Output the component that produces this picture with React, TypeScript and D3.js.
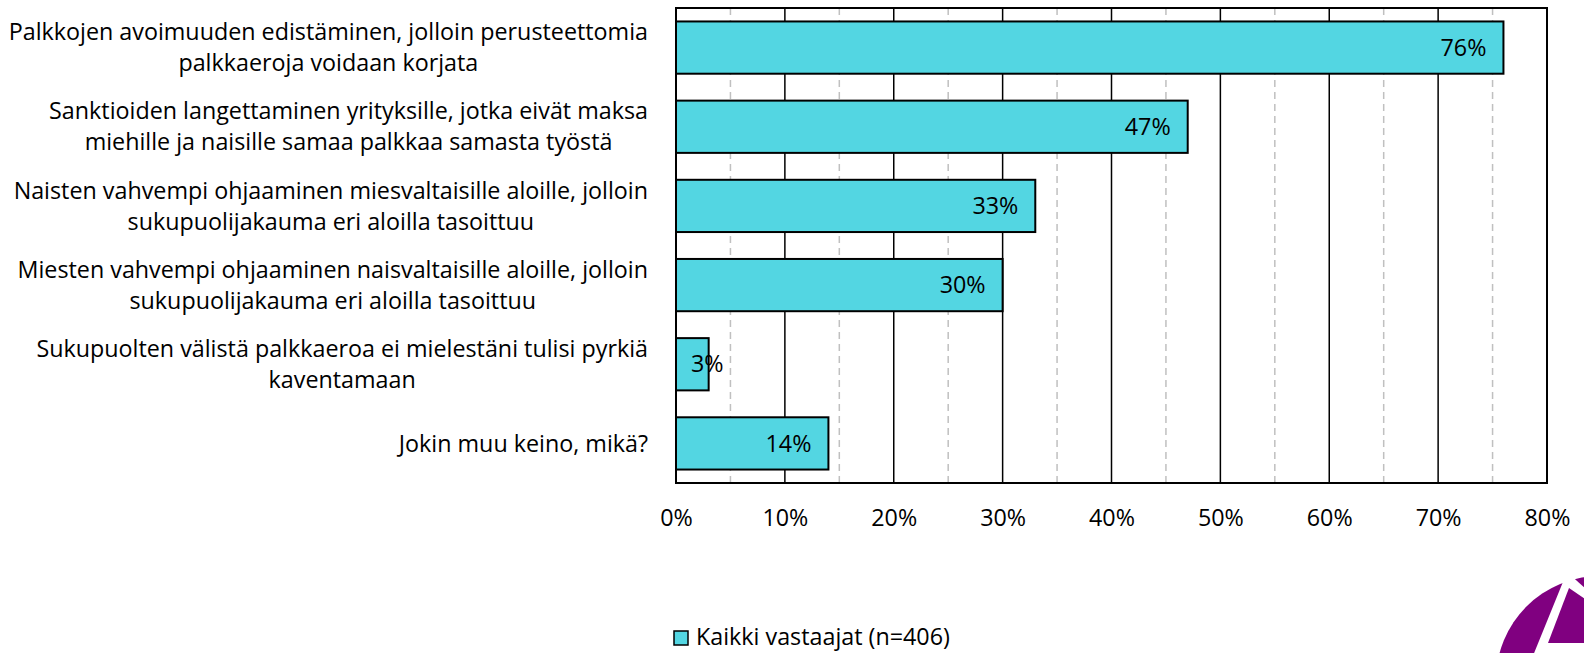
import React, { useEffect, useRef } from 'react';
import * as d3 from 'd3';

// Survey answers (Finnish), one row per option
const categoryLines: string[][] = [
  ['Palkkojen avoimuuden edistäminen, jolloin perusteettomia', 'palkkaeroja voidaan korjata'],
  ['Sanktioiden langettaminen yrityksille, jotka eivät maksa', 'miehille ja naisille samaa palkkaa samasta työstä'],
  ['Naisten vahvempi ohjaaminen miesvaltaisille aloille, jolloin', 'sukupuolijakauma eri aloilla tasoittuu'],
  ['Miesten vahvempi ohjaaminen naisvaltaisille aloille, jolloin', 'sukupuolijakauma eri aloilla tasoittuu'],
  ['Sukupuolten välistä palkkaeroa ei mielestäni tulisi pyrkiä', 'kaventamaan'],
  ['Jokin muu keino, mikä?'],
];
const values = [76, 47, 33, 30, 3, 14];
const majorTicks = [0, 10, 20, 30, 40, 50, 60, 70, 80];
const minorTicks = [5, 15, 25, 35, 45, 55, 65, 75];
const seriesName = 'Kaikki vastaajat (n=406)';

const W = 1584;
const H = 653;
const FONT = "'Open Sans', sans-serif";
const FS = 23.3;

const App = () => {
  const ref = useRef<SVGSVGElement>(null);

  useEffect(() => {
    if (!ref.current) return;
    const svg = d3.select(ref.current);
    svg.selectAll('*').remove();

    const margin = { top: 8, right: 37, bottom: 170, left: 676 };
    const x = d3.scaleLinear().domain([0, 80]).range([margin.left, W - margin.right]);
    const y = d3.scaleBand<number>()
      .domain(values.map((_, i) => i))
      .range([margin.top, H - margin.bottom])
      .paddingInner(0.34)
      .paddingOuter(0.17);

    // minor dashed gridlines
    svg.append('g').selectAll('line').data(minorTicks).join('line')
      .attr('x1', d => x(d)).attr('x2', d => x(d))
      .attr('y1', margin.top).attr('y2', H - margin.bottom)
      .attr('stroke', '#c0c0c0').attr('stroke-width', 1.5)
      .attr('stroke-dasharray', '7,5');

    // major gridlines
    svg.append('g').selectAll('line').data(majorTicks).join('line')
      .attr('x1', d => x(d)).attr('x2', d => x(d))
      .attr('y1', margin.top).attr('y2', H - margin.bottom)
      .attr('stroke', '#000').attr('stroke-width', 1.5);

    // plot border
    svg.append('rect')
      .attr('x', x(0)).attr('y', margin.top)
      .attr('width', x(80) - x(0)).attr('height', H - margin.bottom - margin.top)
      .attr('fill', 'none').attr('stroke', '#000').attr('stroke-width', 2);

    // bars
    svg.append('g').selectAll('rect').data(values).join('rect')
      .attr('x', x(0))
      .attr('y', (_, i) => y(i)!)
      .attr('width', d => x(d) - x(0))
      .attr('height', y.bandwidth())
      .attr('fill', '#53d6e2')
      .attr('stroke', '#000').attr('stroke-width', 2);

    // value labels, inside end (pushed right when the bar is too short)
    values.forEach((v, i) => {
      const t = svg.append('text')
        .attr('y', y(i)! + y.bandwidth() / 2)
        .attr('dy', '0.35em')
        .attr('font-family', FONT).attr('font-size', FS).attr('fill', '#000')
        .text(`${v}%`);
      const w = (t.node() as SVGTextElement).getComputedTextLength();
      const left = Math.max(x(0) + 15, x(v) - 17 - w);
      t.attr('x', left);
    });

    // category labels, centred block right-aligned to axis
    const lineH = 31;
    categoryLines.forEach((lines, i) => {
      const g = svg.append('g');
      const cy = y(i)! + y.bandwidth() / 2;
      const texts = lines.map((s, j) => g.append('text')
        .attr('y', cy + (j - (lines.length - 1) / 2) * lineH)
        .attr('dy', '0.35em')
        .attr('text-anchor', 'middle')
        .attr('font-family', FONT).attr('font-size', FS).attr('fill', '#000')
        .text(s));
      const maxW = d3.max(texts, t => (t.node() as SVGTextElement).getComputedTextLength()) || 0;
      texts.forEach(t => t.attr('x', 648 - maxW / 2));
    });

    // x axis labels
    const axis = svg.append('g')
      .attr('transform', `translate(0,${H - margin.bottom})`)
      .call(d3.axisBottom(x).tickValues(majorTicks).tickSize(0).tickPadding(26).tickFormat(d => `${d}%`));
    axis.select('.domain').remove();
    axis.selectAll('text').attr('font-family', FONT).attr('font-size', FS).attr('fill', '#000');

    // legend
    svg.append('rect')
      .attr('x', 674).attr('y', 631).attr('width', 14).attr('height', 14)
      .attr('fill', '#53d6e2').attr('stroke', '#000').attr('stroke-width', 1.5);
    svg.append('text')
      .attr('x', 696).attr('y', 637).attr('dy', '0.35em')
      .attr('font-family', FONT).attr('font-size', FS).attr('fill', '#000')
      .text(seriesName);

    // logo in corner
    const logo = svg.append('g');
    logo.append('circle').attr('cx', 1600).attr('cy', 680).attr('r', 104).attr('fill', '#800080');
    logo.append('polygon').attr('points', '1567,572 1515,700 1710,700').attr('fill', '#fff');
    logo.append('polygon').attr('points', '1569,588 1548,643 1650,643').attr('fill', '#800080');
  }, []);

  return (
    <svg ref={ref} width={W} height={H}
      style={{ position: 'absolute', left: 0, top: 0, background: '#fff' }} />
  );
};

export default App;
